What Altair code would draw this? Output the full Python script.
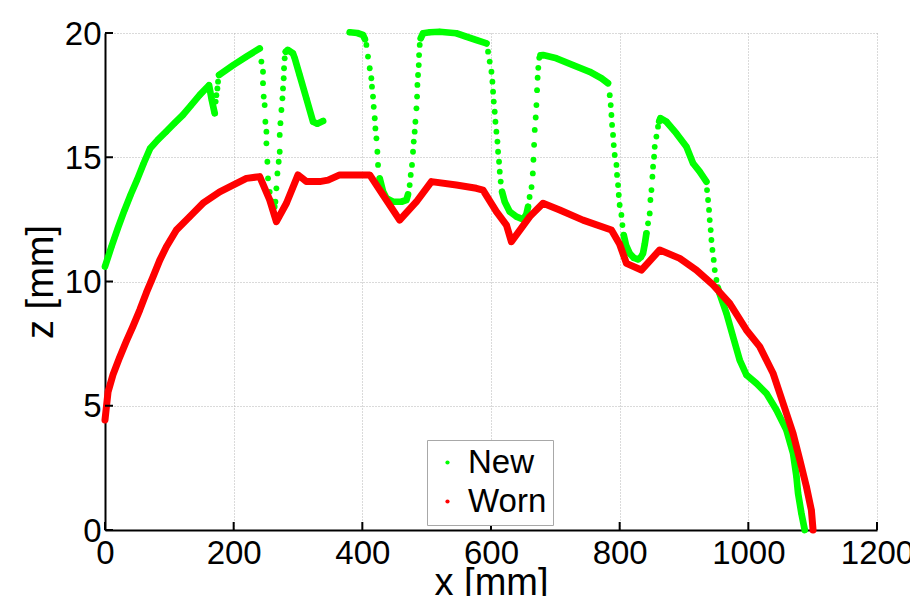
import altair as alt
import pandas as pd

# ---------------- data ----------------
X_TICKS = [0, 200, 400, 600, 800, 1000, 1200]
Z_TICKS = [0, 5, 10, 15, 20]
SERIES = ["New", "Worn"]
COLORS = ["#00ff00", "#ff0000"]

# "New" profile: densely sampled stretches (look like a solid trace), by run id
NEW_TRACE_RUN = [1]*17 + [2]*4 + [3]*9 + [4]*4 + [5]*7 + [6]*8 + [7]*7 + [8]*7 + [9]*9 + [10]*8 + [11]*15
NEW_TRACE_X = [0, 10, 20, 30, 40, 50, 60, 70, 82, 95, 108, 121, 134, 147, 161.7, 166, 170.5,
               177.3, 199, 219.8, 240.5,
               281, 284, 292.2, 295, 302.6, 313, 323.4, 330, 339,
               380.4, 392, 401, 404,
               427, 432.2, 437.4, 447.7, 460.7, 468.5, 471,
               490.8, 494.4, 505, 520, 546, 562, 577, 593,
               617.2, 621.3, 629.1, 639.5, 649.8, 655, 657.6,
               677, 681, 701.7, 727.5, 753.5, 771.6, 781.9,
               806.3, 810, 815.6, 822, 828.6, 833, 836.3, 839, 841.6,
               861.5, 863.3, 872.7, 888.2, 903.8, 914, 924.4, 934.8,
               952.5, 955.5, 966, 976.2, 986.6, 997, 1012.6, 1028, 1043.7, 1059.2, 1069.5, 1074.8, 1077.3, 1082.5, 1087.7]
NEW_TRACE_Z = [10.6, 11.4, 12.15, 12.85, 13.5, 14.1, 14.75, 15.35, 15.7, 16.03, 16.37, 16.7, 17.1, 17.5, 17.9, 17.3, 16.77,
               18.31, 18.7, 19.05, 19.38,
               19.25, 19.32, 19.18, 18.98, 18.3, 17.37, 16.43, 16.35, 16.46,
               20.03, 20.0, 19.92, 19.75,
               14.15, 13.62, 13.35, 13.21, 13.21, 13.28, 13.5,
               19.79, 19.99, 20.03, 20.05, 19.99, 19.85, 19.72, 19.58,
               13.61, 13.21, 12.81, 12.61, 12.5, 12.7, 13.01,
               19.1, 19.11, 18.98, 18.71, 18.44, 18.18, 17.98,
               11.87, 11.45, 11.13, 10.95, 10.89, 10.98, 11.13, 11.5, 11.94,
               16.45, 16.57, 16.43, 15.96, 15.42, 14.76, 14.42, 14.02,
               9.75, 9.5, 8.72, 7.78, 6.84, 6.24, 5.9, 5.5, 4.83, 4.02, 3.09, 2.15, 1.48, 0.67, 0.0]

# "New" profile: sparse samples on the steep flanks (visible as separate dots)
NEW_DOTS_X = [172, 173.1, 174.7, 175.7,
              243.1, 245.6, 245.6, 246.7, 248.2, 249.3, 250.9, 250.9, 252.4, 253.4, 256, 261.2, 263.8,
              264.9, 266.4, 268, 270, 271.6, 271.6, 272.7, 274.2, 275.8, 276.7, 277.8, 278.3, 279.3,
              406.3, 408.8, 411.5, 414, 415, 416.6, 417.7, 419.3, 420.3, 421.9, 423.4, 424.4,
              473.6, 475.2, 477.2, 478.8, 479.9, 481.4, 482.5, 484.1, 485.1, 485.6, 486.6, 487.7, 488.2, 489.2,
              595.4, 598, 600.7, 602.2, 603.2, 604.3, 605.8, 606.9, 608.4, 610, 611, 612.5, 613.6, 615.1,
              660, 663, 665, 666, 667, 668, 669.5, 670.6, 671.6, 672.5, 673.5, 675,
              784.6, 786.1, 787.2, 788.2, 789.7, 790.8, 792.3, 795, 795.9, 797.5, 798.6, 800, 802.7, 804.3,
              844.1, 846.7, 847.8, 849.4, 850.9, 851.9, 853.5, 854.5, 857.1, 859.6,
              935.8, 937.4, 938.9, 940, 941.5, 942.6, 944.2, 946.2, 947.8, 950.4]
NEW_DOTS_Z = [17.24, 17.5, 17.77, 18.04,
              18.85, 18.44, 17.98, 17.44, 17.1, 16.43, 16.03, 15.56, 14.82, 14.15, 13.61, 13.21, 13.01,
              13.21, 13.75, 14.35, 14.82, 15.22, 15.9, 16.37, 16.9, 17.37, 17.77, 18.18, 18.58, 18.98,
              19.52, 19.05, 18.58, 18.18, 17.84, 17.44, 17.03, 16.57, 16.16, 15.76, 15.22, 14.69,
              13.88, 14.29, 14.69, 15.22, 15.63, 16.03, 16.43, 16.97, 17.44, 17.91, 18.31, 18.71, 19.11, 19.52,
              19.25, 18.85, 18.44, 18.04, 17.64, 17.24, 16.83, 16.43, 16.03, 15.63, 15.22, 14.82, 14.42, 14.02,
              13.4, 13.8, 14.35, 14.9, 15.5, 16.1, 16.6, 17.1, 17.7, 18.2, 18.6, 19.0,
              17.5, 17.1, 16.7, 16.3, 15.9, 15.49, 15.09, 14.69, 14.29, 13.88, 13.48, 13.08, 12.68, 12.27,
              12.34, 12.74, 13.28, 13.68, 14.22, 14.62, 15.02, 15.42, 15.83, 16.23,
              13.68, 13.28, 12.88, 12.47, 12.07, 11.67, 11.27, 10.87, 10.46, 10.06]

# "Worn" profile
WORN_X = [0, 4.7, 12.4, 22.8, 33.2, 43.5, 54, 64.3, 74.6, 85, 95.4, 111, 131.7, 152.3, 178.3, 199, 219.8, 240.5,
          256, 266.4, 282, 300, 313, 333.8, 346.7, 364.8, 411.5, 432.2, 458, 484.1, 507.4, 546.2, 577.3, 587.6,
          608.4, 624, 631.7, 660.2, 680.9, 706.8, 743, 787.2, 800, 810.5, 833.8, 862.3, 893.4, 919.3, 945.2,
          971, 997, 1017.7, 1038.4, 1054, 1069.5, 1080, 1090.3, 1098, 1100.6]
WORN_Z = [4.43, 5.55, 6.25, 6.95, 7.6, 8.2, 8.85, 9.55, 10.19, 10.85, 11.4, 12.07, 12.61, 13.15, 13.61, 13.88, 14.15, 14.22,
          13.28, 12.41, 13.15, 14.29, 14.02, 14.02, 14.08, 14.29, 14.29, 13.48, 12.47, 13.21, 14.02, 13.88, 13.75, 13.68,
          12.81, 12.27, 11.6, 12.61, 13.15, 12.88, 12.47, 12.07, 11.5, 10.73, 10.46, 11.27, 10.93, 10.46, 9.86,
          9.12, 8.05, 7.38, 6.31, 5.1, 3.89, 2.82, 1.74, 0.8, 0.0]

# ---------------- tables ----------------
trace_new = pd.DataFrame({"series": "New", "run": NEW_TRACE_RUN, "x": NEW_TRACE_X, "z": NEW_TRACE_Z})
dots_new = pd.DataFrame({"series": "New", "x": NEW_DOTS_X, "z": NEW_DOTS_Z})
worn = pd.DataFrame({"series": "Worn", "x": WORN_X, "z": WORN_Z})
all_pts = pd.concat([trace_new[["series", "x", "z"]], dots_new, worn], ignore_index=True)
xt = pd.DataFrame({"x": X_TICKS})
zt = pd.DataFrame({"z": Z_TICKS})

W, H = 772, 497
FONT = "Liberation Sans"

xscale = alt.Scale(domain=[0, 1200], nice=False, zero=False)
zscale = alt.Scale(domain=[0, 20], nice=False, zero=False)
cscale = alt.Scale(domain=SERIES, range=COLORS)

xaxis = alt.Axis(values=X_TICKS, title="x [mm]", format="d", grid=True, ticks=False,
                 gridColor="#b4b4b4", gridDash=[1, 2], gridWidth=1,
                 domainColor="#000000", domainWidth=2,
                 labelFont=FONT, labelFontSize=33, labelColor="#000000", labelPadding=7,
                 labelFlush=False, labelOverlap=False, labelBound=False,
                 titleFont=FONT, titleFontSize=38, titleFontWeight="normal", titleColor="#000000",
                 titleY=64, titleBaseline="alphabetic")
zaxis = alt.Axis(values=Z_TICKS, title="z [mm]", format="d", grid=True, ticks=False,
                 gridColor="#b4b4b4", gridDash=[1, 2], gridWidth=1,
                 domainColor="#000000", domainWidth=2,
                 labelFont=FONT, labelFontSize=33, labelColor="#000000", labelPadding=4, labelOffset=1,
                 labelFlush=False, labelOverlap=False, labelBound=False,
                 titleFont=FONT, titleFontSize=38, titleFontWeight="normal", titleColor="#000000",
                 titleX=-53, titleBaseline="alphabetic")

X = alt.X("x:Q", scale=xscale, axis=xaxis)
Z = alt.Y("z:Q", scale=zscale, axis=zaxis)

legend = alt.Legend(title=None, orient="none", legendX=322, legendY=407,
                    symbolType="circle", symbolSize=18, symbolStrokeWidth=0,
                    labelFont=FONT, labelFontSize=33, labelColor="#000000", labelOffset=4,
                    rowPadding=5, padding=6, symbolOffset=-2,
                    strokeColor="#a8a8a8", fillColor="#ffffff")

green_lines = alt.Chart(trace_new).mark_line(strokeWidth=6.7, strokeCap="round", strokeJoin="round",
                                             color=COLORS[0]).encode(
    x=X, y=Z, detail="run:N")

points = alt.Chart(all_pts).mark_circle(size=34, opacity=1).encode(
    x=X, y=Z,
    color=alt.Color("series:N", scale=cscale, legend=legend))

red_line = alt.Chart(worn).mark_line(strokeWidth=7, strokeCap="round", strokeJoin="round",
                                     color=COLORS[1]).encode(x=X, y=Z)

xticks = alt.Chart(xt).mark_rule(color="#000000", strokeWidth=2).encode(
    x=X, y=alt.value(H), y2=alt.value(H - 8))
zticks = alt.Chart(zt).mark_rule(color="#000000", strokeWidth=2).encode(
    y=Z, x=alt.value(0), x2=alt.value(8))

chart = alt.layer(green_lines, points, red_line, xticks, zticks).properties(
    width=W, height=H,
    autosize=alt.AutoSizeParams(type="none"),
    padding={"left": 97, "top": 25, "right": 33, "bottom": 66},
    background="#ffffff",
).configure_view(stroke="transparent")

chart.save("out.html", embed_options={"renderer": "svg", "actions": False})
